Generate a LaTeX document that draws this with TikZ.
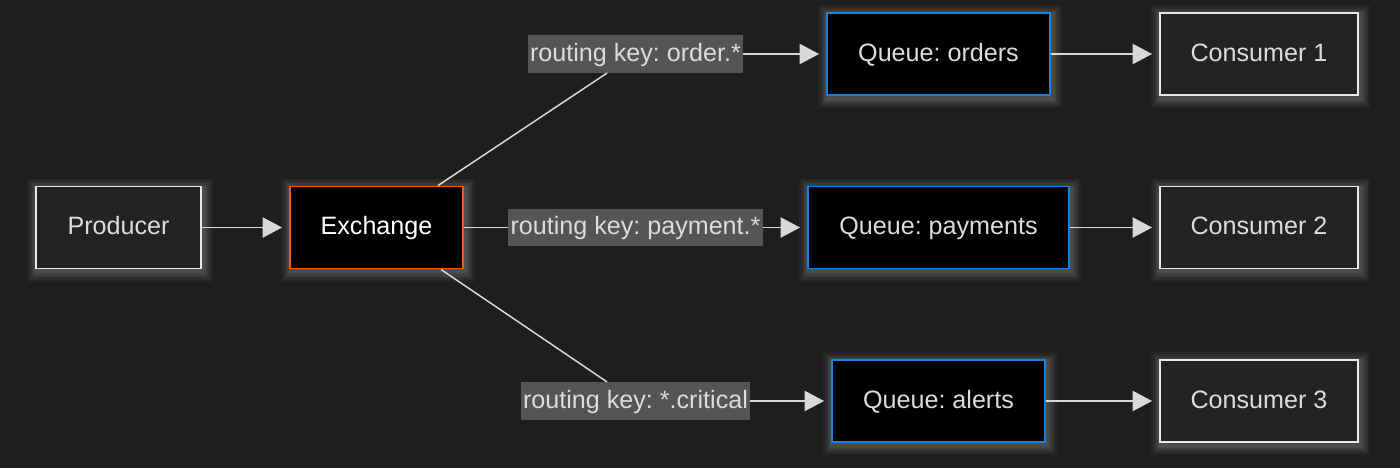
\documentclass[tikz,border=0pt]{standalone}
\usepackage{fontspec}
\setmainfont{Liberation Sans}
\usetikzlibrary{arrows.meta,calc}
\definecolor{bgc}{HTML}{1E1E1E}
\definecolor{boxfill}{HTML}{222424}
\definecolor{boxline}{HTML}{E8E8E8}
\definecolor{exline}{HTML}{F25A12}
\definecolor{qline}{HTML}{1C7FE6}
\definecolor{lblbg}{HTML}{555555}
\definecolor{txtc}{HTML}{DCDCDC}
\definecolor{conn}{HTML}{D8D8D8}
\tikzset{
  glowlayer/.style={preaction={draw=white, opacity=0.035, line width=#1, transform canvas={shift={(0.9pt,-1.5pt)}}}},
  glow/.style={glowlayer=12pt, glowlayer=10pt, glowlayer=8pt, glowlayer=6.5pt, glowlayer=5pt, glowlayer=3.8pt, glowlayer=2.6pt},
  basebox/.style={rectangle, glow, minimum height=1.64cm, inner sep=0pt, text height=1.05em, text depth=0.2em, font=\fontsize{14.3}{16}\selectfont, line width=1.1pt},
  plainbox/.style={basebox, fill=boxfill, draw=boxline, text=txtc},
  exbox/.style={basebox, fill=black, draw=exline, text=white},
  qbox/.style={basebox, fill=black, draw=qline, text=txtc},
  lbl/.style={rectangle, fill=lblbg, text=txtc, inner sep=0pt, minimum height=0.75cm, text height=1.05em, text depth=0.2em, font=\fontsize{14.3}{16}\selectfont},
  conline/.style={draw=conn, line width=0.85pt},
  arr/.style={conline, -{Triangle[length=11pt,width=11.5pt]}, shorten >=4pt},
}
\begin{document}
\frenchspacing
\begin{tikzpicture}[x=0.02cm, y=-0.02cm]
\fill[bgc] (0,0) rectangle (1400,468);
\useasboundingbox (0,0) rectangle (1400,468);

\node[plainbox, minimum width=3.3cm] (prod) at (118.5,227.5) {Producer};
\node[exbox, minimum width=3.46cm] (ex) at (376.5,227.5) {Exchange};

\node[qbox, minimum width=4.46cm] (q1) at (938.5,54) {Queue: orders};
\node[qbox, minimum width=5.22cm] (q2) at (938.5,227.5) {Queue: payments};
\node[qbox, minimum width=4.26cm] (q3) at (938.5,401) {Queue: alerts};

\node[plainbox, minimum width=3.96cm] (c1) at (1259,54) {Consumer 1};
\node[plainbox, minimum width=3.96cm] (c2) at (1259,227.5) {Consumer 2};
\node[plainbox, minimum width=3.96cm] (c3) at (1259,401) {Consumer 3};

\node[lbl, minimum width=4.3cm] (l1) at (635.5,54) {routing key: order.*};
\node[lbl, minimum width=5.1cm] (l2) at (635.5,227.5) {routing key: payment.*};
\node[lbl, minimum width=4.58cm] (l3) at (635.5,401) {routing key: *.critical};

\coordinate (exT) at ($(ex.north east)+(-26,0)$);
\coordinate (exB) at ($(ex.south east)+(-23,0)$);
\coordinate (l1B) at ($(l1.south)+(-28.5,0)$);
\coordinate (l3T) at ($(l3.north)+(-28.5,0)$);

\draw[arr] (prod.east) -- (ex.west);
\draw[conline] (exT) -- (l1B);
\draw[conline] (ex.east) -- (l2.west);
\draw[conline] (exB) -- (l3T);
\draw[arr] (l1.east) -- (q1.west);
\draw[arr] (l2.east) -- (q2.west);
\draw[arr] (l3.east) -- (q3.west);
\draw[arr] (q1.east) -- (c1.west);
\draw[arr] (q2.east) -- (c2.west);
\draw[arr] (q3.east) -- (c3.west);
\end{tikzpicture}
\end{document}
